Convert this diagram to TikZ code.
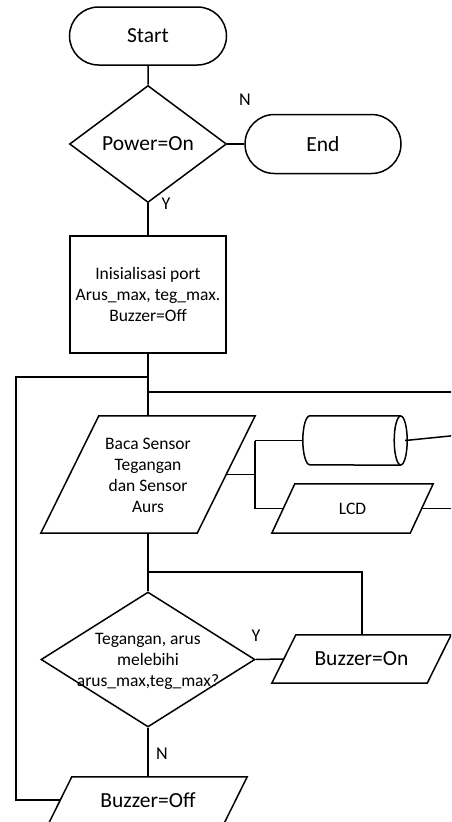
\documentclass[tikz,border=0pt]{standalone}
\usepackage{fontspec}
\setmainfont{Carlito}
\usetikzlibrary{shapes.geometric,shapes.misc}
\tikzset{
  ln/.style={line width=1.5pt, line join=miter},
  big/.style={font=\fontsize{21.5}{26}\selectfont},
  small/.style={font=\fontsize{17.5}{21}\selectfont, align=center},
  lab/.style={font=\fontsize{18}{22}\selectfont, inner sep=0pt},
  term/.style={ln, draw, rounded rectangle, big, inner sep=0pt},
  dec/.style={ln, draw, diamond, inner sep=0pt},
  proc/.style={ln, draw, rectangle, small, inner sep=0pt},
  pbox/.style={draw=none, rectangle, inner sep=0pt},
}
\newcommand\drawpara[2]{\draw[ln] ([xshift=#2pt]#1.north west) -- (#1.north east) -- ([xshift=-#2pt]#1.south east) -- (#1.south west) -- cycle;}
\begin{document}
\begin{tikzpicture}[x=1pt,y=-1pt]
\useasboundingbox (0,0) rectangle (451,822);
\clip (0,0) rectangle (451,822);
% nodes
\node[term, minimum width=157pt, minimum height=58pt] (start) at (148,36) {Start};
\node[dec, minimum width=157pt, minimum height=117pt] (pw) at (148,144) {};
\node[big] at (148,144) {Power=On};
\node[term, minimum width=156pt, minimum height=59pt] (end) at (323,144) {End};
\node[proc, minimum width=156pt, minimum height=117pt] (init) at (148,294.5) {Inisialisasi port\\Arus\_max, teg\_max.\\Buzzer=Off};
\node[pbox, minimum width=214pt, minimum height=117pt] (baca) at (148,474.5) {};
\drawpara{baca}{58}
\node[small] at (148,475) {Baca Sensor\\Tegangan\\dan Sensor\\Aurs};
% cylinder (storage)
\node[pbox, minimum width=104pt, minimum height=49pt] (cyl) at (355,440.5) {};
\draw[ln] ([xshift=-6.5pt]cyl.north east) -- ([xshift=7pt]cyl.north west)
  arc[start angle=90, end angle=270, x radius=7pt, y radius=24.5pt]
  -- ([xshift=-6.5pt]cyl.south east);
\draw[ln] ([xshift=-6.5pt]cyl.east) ellipse [x radius=6.5pt, y radius=24.5pt];
\node[pbox, minimum width=161pt, minimum height=49pt] (lcd) at (352.5,508.5) {};
\drawpara{lcd}{23}
\node[small] at (352.5,509) {LCD};
\node[dec, minimum width=214pt, minimum height=135pt] (d2) at (148,659.5) {};
\node[small] at (148,661) {Tegangan, arus\\melebihi\\arus\_max,teg\_max?};
\node[pbox, minimum width=179pt, minimum height=48pt] (bon) at (361.5,659) {};
\drawpara{bon}{24}
\node[big] at (361.5,659) {Buzzer=On};
\node[pbox, minimum width=198pt, minimum height=46pt] (boff) at (148,800) {};
\drawpara{boff}{23}
\node[big] at (148,800) {Buzzer=Off};
% labels
\node[lab] at (245,100) {N};
\node[lab] at (166,204) {Y};
\node[lab] at (256,636) {Y};
\node[lab] at (162,754) {N};
% coordinates
\coordinate (j1) at (148,377);
\coordinate (j1l) at (16,377);
\coordinate (boffl) at (16,800);
\coordinate (j2) at (148,392);
\coordinate (e1) at (460,392);
\coordinate (bacar) at (226.5,474.5);
\coordinate (j3) at (255,474.5);
\coordinate (j3t) at (255,440.5);
\coordinate (j3b) at (255,508.5);
\coordinate (e2) at (460,435);
\coordinate (e3) at (460,508.5);
\coordinate (j4) at (148,572);
\coordinate (j4r) at (362,572);
% connectors
\draw[ln] (start) -- (pw);
\draw[ln] (pw.east) -- (end.west);
\draw[ln] (pw.south) -- (init.north);
\draw[ln] (init.south) -- (j1) -- (j2) -- (baca.north);
\draw[ln] (j2) -- (e1);
\draw[ln] ([xshift=11.5pt]boff.west) -- (boffl) -- (j1l) -- (j1);
\draw[ln] (bacar) -- (j3);
\draw[ln] (j3t) -- (j3b);
\draw[ln] (j3t) -- (cyl.west);
\draw[ln] (j3b) -- ([xshift=11.5pt]lcd.west);
\draw[ln] ([xshift=-12pt]lcd.east) -- (e3);
\draw[ln] ([xshift=-2pt]cyl.east) -- (e2);
\draw[ln] (baca.south) -- (j4) -- (d2.north);
\draw[ln] (j4) -- (j4r) -- (j4r |- bon.north);
\draw[ln] (d2.east) -- ([xshift=12pt]bon.west);
\draw[ln] (d2.south) -- (boff.north);
\end{tikzpicture}
\end{document}
